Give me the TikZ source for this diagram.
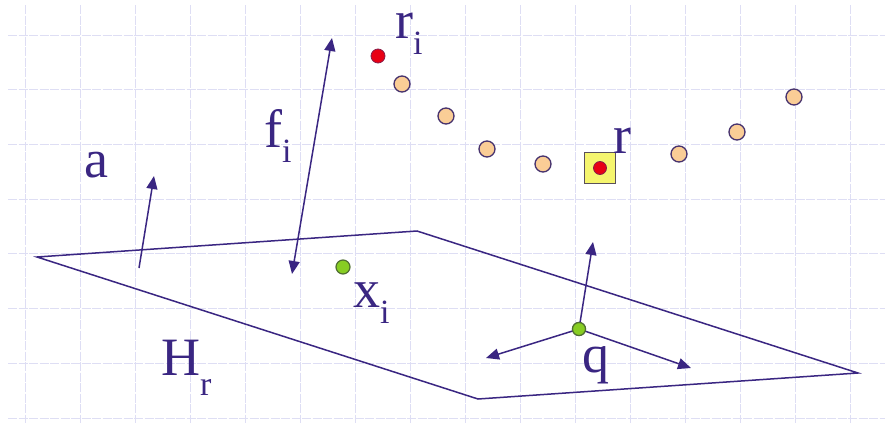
\documentclass[tikz,border=0pt]{standalone}
\usepackage{fontspec}
\setmainfont{Liberation Serif}
\usetikzlibrary{arrows.meta}
\definecolor{ink}{RGB}{58,38,130}
\definecolor{gridc}{RGB}{222,222,244}
\definecolor{orangefill}{RGB}{250,205,150}
\definecolor{ptborder}{RGB}{70,50,110}
\definecolor{redfill}{RGB}{232,0,20}
\definecolor{greenfill}{RGB}{135,205,35}
\definecolor{greenborder}{RGB}{80,110,50}
\definecolor{yellowfill}{RGB}{245,245,110}
\definecolor{sqborder}{RGB}{90,80,90}
\tikzset{
  x=1pt, y=-1pt,
  gridline/.style={draw=gridc, line width=0.7pt, dash pattern=on 9pt off 1.5pt},
  vec/.style={draw=ink, line width=1.5pt, -{Triangle[length=13pt,width=11pt]}},
  dvec/.style={draw=ink, line width=1.5pt, {Triangle[length=13pt,width=11pt]}-{Triangle[length=13pt,width=11pt]}},
  planeline/.style={draw=ink, line width=1.5pt, line join=miter},
  orangept/.style={circle, draw=ptborder, fill=orangefill, line width=1.3pt, minimum size=16pt, inner sep=0pt},
  redpt/.style={circle, draw=ptborder!60!redfill, fill=redfill, line width=0.8pt, minimum size=14pt, inner sep=0pt},
  greenpt/.style={circle, draw=greenborder, fill=greenfill, line width=1.2pt, minimum size=14pt, inner sep=0pt},
  sqbox/.style={draw=sqborder, fill=yellowfill, line width=1.2pt, minimum size=31pt, inner sep=0pt},
  lbl/.style={text=ink, inner sep=0pt, anchor=base west, font=\fontsize{54}{54}\selectfont},
}
\newcommand{\subi}[2]{\raisebox{-#1pt}{\fontsize{34}{34}\selectfont #2}}
\begin{document}
\begin{tikzpicture}
\useasboundingbox[fill=white] (0,0) rectangle (892,423);
% grid
\foreach \k in {0,...,15} {
  \draw[gridline] (25+55*\k,5) -- (25+55*\k,423);
}
\foreach \k in {0,...,7} {
  \draw[gridline] (8,35+54.7*\k) -- (885,35+54.7*\k);
}
% plane
\coordinate (P1) at (37,257);
\coordinate (P2) at (417,231);
\coordinate (P3) at (858,373);
\coordinate (P4) at (478,399);
\draw[planeline] (P1) -- (P2) -- (P3) -- (P4) -- cycle;
% normal a
\coordinate (a0) at (139,268);
\coordinate (a1) at (154,176);
\draw[vec] (a0) -- (a1);
% f_i
\coordinate (f0) at (292,274);
\coordinate (f1) at (332,38);
\draw[dvec] (f0) -- (f1);
% points
\node[redpt] (ri) at (378,56) {};
\node[orangept] (o1) at (402,84) {};
\node[orangept] (o2) at (446,116) {};
\node[orangept] (o3) at (487,149) {};
\node[orangept] (o4) at (543,164) {};
\node[sqbox] (sq) at (600,168) {};
\node[redpt, minimum size=13pt] (r) at (600,168) {};
\node[orangept] (o5) at (679,154) {};
\node[orangept] (o6) at (737,132) {};
\node[orangept] (o7) at (794,97) {};
\node[greenpt] (xi) at (343,267) {};
% frame at q
\coordinate (qup) at (593,242);
\coordinate (qleft) at (486,358);
\coordinate (qright) at (691,368);
\node[greenpt, minimum size=13pt] (q) at (579,329) {};
\draw[vec] (q.center) -- (qup);
\draw[vec] (q.center) -- (qleft);
\draw[vec] (q.center) -- (qright);
\node[greenpt, minimum size=13pt] at (q) {};
% labels
\node[lbl] (la) at (84,177) {a};
\node[lbl] (lf) at (264,147) {f\subi{15}{i}};
\node[lbl] (lri) at (395,38) {r\subi{16}{i}};
\node[lbl] (lr) at (613,153) {r};
\node[lbl] (lxi) at (353,307) {x\subi{16}{i}};
\node[lbl] (lH) at (161,375) {H\subi{20}{r}};
\node[lbl] (lq) at (582,372) {q};
\end{tikzpicture}
\end{document}
